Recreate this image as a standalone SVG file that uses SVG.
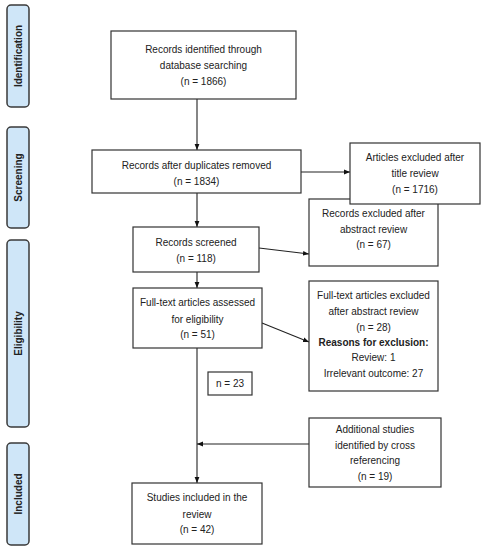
<svg xmlns="http://www.w3.org/2000/svg" width="485" height="550" viewBox="0 0 485 550">
<defs>
<marker id="ah" viewBox="0 0 10 10" refX="10" refY="5" markerWidth="6" markerHeight="6" orient="auto-start-reverse" markerUnits="userSpaceOnUse">
<path d="M0,1 L10,5 L0,9 z" fill="#111"/>
</marker>
<style>
.box{fill:#fff;stroke:#333;stroke-width:1.2}
.phase{fill:#cfe6f8;stroke:#3a3a3a;stroke-width:1.5}
.t{font-family:"Liberation Sans",Arial,sans-serif;font-size:10px;fill:#222;text-anchor:middle}
.b{font-weight:bold}
.pl{font-family:"Liberation Sans",Arial,sans-serif;font-size:10px;font-weight:bold;fill:#222;text-anchor:middle}
.c{fill:none;stroke:#222;stroke-width:1.1}
</style>
</defs>
<rect width="485" height="550" fill="#fff"/>
<g id="phase-identification"><rect class="phase" x="7" y="5" width="22" height="102" rx="4"/><text class="pl" transform="translate(21.5,56) rotate(-90)">Identification</text></g>
<g id="phase-screening"><rect class="phase" x="7" y="127" width="22" height="101" rx="4"/><text class="pl" transform="translate(21.5,177.5) rotate(-90)">Screening</text></g>
<g id="phase-eligibility"><rect class="phase" x="7" y="240" width="22" height="187" rx="4"/><text class="pl" transform="translate(21.5,333.5) rotate(-90)">Eligibility</text></g>
<g id="phase-included"><rect class="phase" x="7" y="443" width="22" height="102" rx="4"/><text class="pl" transform="translate(21.5,494) rotate(-90)">Included</text></g>

<g id="connectors">
<line class="c" x1="197" y1="99" x2="197" y2="150" marker-end="url(#ah)"/>
<line class="c" x1="301" y1="172" x2="350" y2="172" marker-end="url(#ah)"/>
<line class="c" x1="197" y1="193" x2="197" y2="227" marker-end="url(#ah)"/>
<line class="c" x1="259" y1="248" x2="309" y2="254" marker-end="url(#ah)"/>
<line class="c" x1="197" y1="272" x2="197" y2="288" marker-end="url(#ah)"/>
<line class="c" x1="262" y1="323" x2="309" y2="342" marker-end="url(#ah)"/>
<line class="c" x1="197" y1="348" x2="197" y2="483" marker-end="url(#ah)"/>
<line class="c" x1="309" y1="444" x2="197" y2="444" marker-end="url(#ah)"/>
</g>

<g id="identified"><rect class="box" x="111" y="31" width="185" height="68"/>
<text class="t" x="203.5" y="53">Records identified through</text>
<text class="t" x="203.5" y="69">database searching</text>
<text class="t" x="203.5" y="85">(n = 1866)</text></g>

<g id="duplicates-removed"><rect class="box" x="92" y="150" width="209" height="43"/>
<text class="t" x="196.5" y="169">Records after duplicates removed</text>
<text class="t" x="196.5" y="185">(n = 1834)</text></g>

<g id="abstract-excluded"><rect class="box" x="309" y="199" width="129" height="67"/>
<text class="t" x="373.5" y="217">Records excluded after</text>
<text class="t" x="373.5" y="233">abstract review</text>
<text class="t" x="373.5" y="248">(n = 67)</text></g>

<g id="title-excluded"><rect class="box" x="350" y="143" width="130" height="61"/>
<text class="t" x="415" y="161">Articles excluded after</text>
<text class="t" x="415" y="177">title review</text>
<text class="t" x="415" y="193">(n = 1716)</text></g>

<g id="screened"><rect class="box" x="133" y="227" width="126" height="45"/>
<text class="t" x="196" y="246">Records screened</text>
<text class="t" x="196" y="262">(n = 118)</text></g>

<g id="fulltext-assessed"><rect class="box" x="133" y="288" width="129" height="60"/>
<text class="t" x="197.5" y="306">Full-text articles assessed</text>
<text class="t" x="197.5" y="323">for eligibility</text>
<text class="t" x="197.5" y="338">(n = 51)</text></g>

<g id="fulltext-excluded"><rect class="box" x="309" y="281" width="129" height="110"/>
<text class="t" x="373.5" y="299">Full-text articles excluded</text>
<text class="t" x="373.5" y="315">after abstract review</text>
<text class="t" x="373.5" y="331">(n = 28)</text>
<text class="t b" x="373.5" y="346">Reasons for exclusion:</text>
<text class="t" x="373.5" y="361">Review: 1</text>
<text class="t" x="373.5" y="377">Irrelevant outcome: 27</text></g>

<g id="n23"><rect class="box" x="208" y="372" width="44" height="23"/>
<text class="t" x="230" y="387">n = 23</text></g>

<g id="additional"><rect class="box" x="309" y="418" width="132" height="69"/>
<text class="t" x="375" y="433">Additional studies</text>
<text class="t" x="375" y="449">identified by cross</text>
<text class="t" x="375" y="464">referencing</text>
<text class="t" x="375" y="480">(n = 19)</text></g>

<g id="included"><rect class="box" x="132" y="483" width="130" height="61"/>
<text class="t" x="197" y="501">Studies included in the</text>
<text class="t" x="197" y="518">review</text>
<text class="t" x="197" y="533">(n = 42)</text></g>
</svg>
